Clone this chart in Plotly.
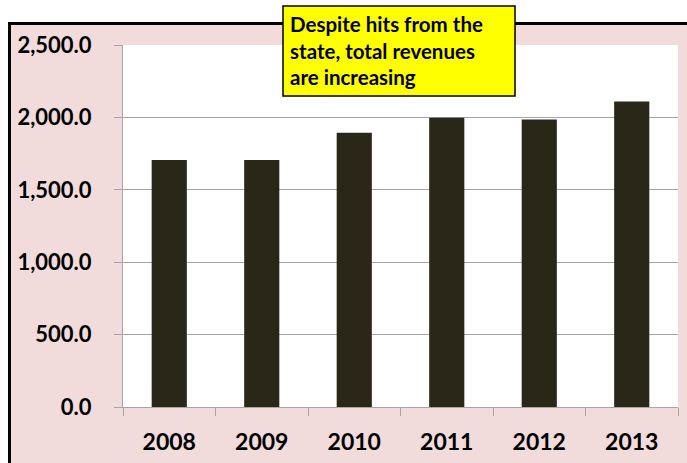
import plotly.graph_objects as go

years = ["2008", "2009", "2010", "2011", "2012", "2013"]
revenues = [1705, 1705, 1894, 1998, 1986, 2110]
note_lines = ["Despite hits from the", "state, total revenues", "are increasing"]

W, H = 687, 463
L, R, T, B = 123, 9, 45, 56
pw, ph = W - L - R, H - T - B

def px(x):
    return (x - L) / pw

def py(y):
    return (H - B - y) / ph

fig = go.Figure(go.Bar(x=years, y=revenues, marker=dict(color="#2a2718", line=dict(width=0))))

fig.update_layout(
    width=W, height=H,
    margin=dict(l=L, r=R, t=T, b=B),
    paper_bgcolor="white", plot_bgcolor="white",
    bargap=0.62, showlegend=False,
    font=dict(family="Lato", color="black"),
)
fig.update_yaxes(
    range=[0, 2500], dtick=500, tickformat=",.1f",
    showgrid=True, gridcolor="#a6a6a6", gridwidth=1,
    showline=True, linecolor="#a6a6a6", linewidth=1,
    ticks="outside", ticklen=8, tickcolor="#a6a6a6",
    tickfont=dict(family="Lato", size=22, color="black", weight="bold"),
    ticklabelstandoff=18, zeroline=False,
)
fig.update_xaxes(
    type="category", showline=True, linecolor="#a6a6a6", linewidth=1,
    ticks="outside", ticklen=8, tickcolor="#a6a6a6", tickson="boundaries",
    tickfont=dict(family="Lato", size=23, color="black", weight="bold"),
    ticklabelstandoff=14, showgrid=False,
)

fig.add_shape(type="rect", xref="paper", yref="paper", layer="below",
              x0=px(9.5), x1=px(720), y0=py(500), y1=py(23.5),
              fillcolor="#f2dcdb", line=dict(color="black", width=3))
fig.add_shape(type="rect", xref="paper", yref="paper", layer="below",
              x0=0, x1=1, y0=0, y1=1,
              fillcolor="white", line=dict(width=0))
fig.add_shape(type="rect", xref="paper", yref="paper", layer="above",
              x0=px(283), x1=px(515), y0=py(96), y1=py(6),
              fillcolor="#ffff00", line=dict(color="black", width=1.5))
fig.add_annotation(xref="paper", yref="paper", x=px(288), y=py(51),
                   xanchor="left", yanchor="middle", align="left", showarrow=False,
                   text="<br>".join(note_lines),
                   font=dict(family="Lato", size=20.5, color="black", weight="bold"))

fig.write_html("out.html")
